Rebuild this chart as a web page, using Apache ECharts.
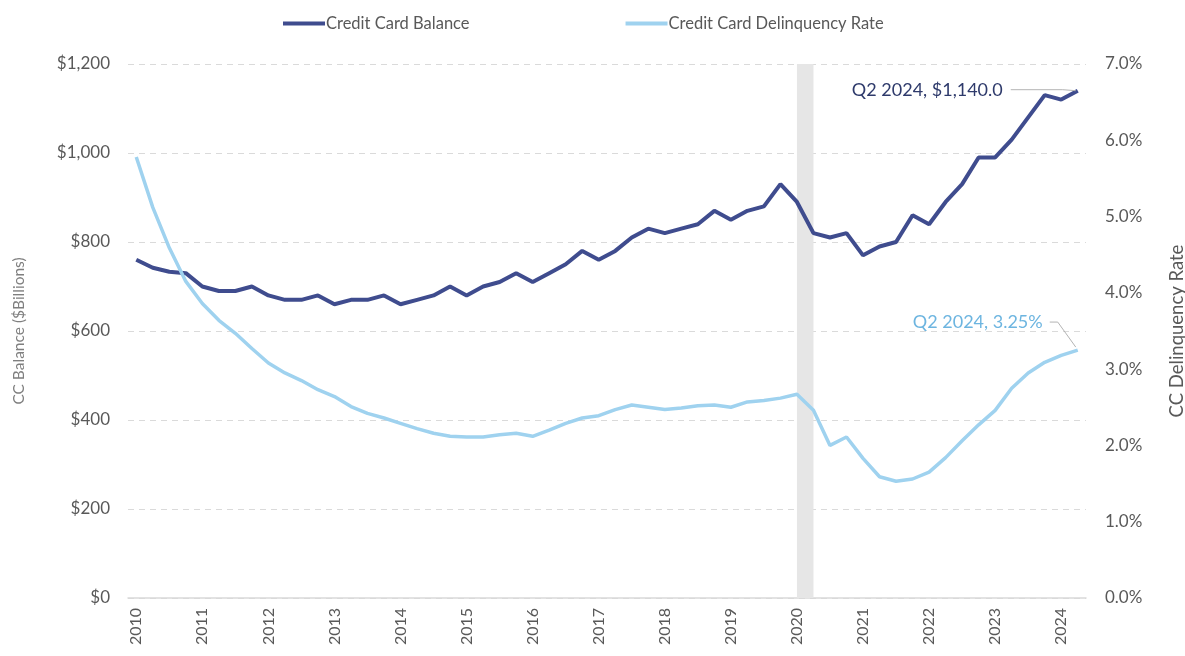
<!DOCTYPE html>
<html>
<head>
<meta charset="utf-8">
<title>Credit Card Balance and Delinquency Rate</title>
<script src="https://cdn.jsdelivr.net/npm/echarts@6/dist/echarts.min.js"></script>
<style>
  html, body { margin: 0; padding: 0; background: #ffffff; }
  #chart { width: 1185px; height: 656px; }
</style>
</head>
<body>
<div id="chart"></div>
<script>
// Quarterly series, Q1 2010 through Q2 2024
const years = [2010, 2011, 2012, 2013, 2014, 2015, 2016, 2017, 2018, 2019, 2020, 2021, 2022, 2023, 2024];
const quarters = ['Q1', 'Q2', 'Q3', 'Q4'];
const categories = [];
years.forEach(y => quarters.forEach(q => {
  if (!(y === 2024 && (q === 'Q3' || q === 'Q4'))) categories.push(y + ' ' + q);
}));

// Credit card balance, $ billions
const balance = [
  760, 742, 733, 730,
  700, 690, 690, 700,
  680, 670, 670, 680,
  660, 670, 670, 680,
  660, 670, 680, 700,
  680, 700, 710, 730,
  710, 730, 750, 780,
  760, 780, 810, 830,
  820, 830, 840, 870,
  850, 870, 880, 930,
  890, 820, 810, 820,
  770, 790, 800, 860,
  840, 890, 930, 990,
  990, 1030, 1080, 1130,
  1120, 1140
];

// Credit card delinquency rate, %
const delinquency = [
  5.78, 5.12, 4.59, 4.15,
  3.86, 3.64, 3.47, 3.27,
  3.08, 2.95, 2.85, 2.73,
  2.64, 2.51, 2.42, 2.36,
  2.29, 2.22, 2.16, 2.12,
  2.11, 2.11, 2.14, 2.16,
  2.12, 2.20, 2.29, 2.36,
  2.39, 2.47, 2.53, 2.50,
  2.47, 2.49, 2.52, 2.53,
  2.50, 2.57, 2.59, 2.62,
  2.67, 2.46, 2.00, 2.11,
  1.83, 1.59, 1.53, 1.56,
  1.65, 1.84, 2.06, 2.27,
  2.46, 2.75, 2.95, 3.09,
  3.18, 3.25
];

// Recession shading
const recessionStart = '2020 Q1';
const recessionEnd = '2020 Q2';

const balanceAxisTicks = { min: 0, max: 1200, interval: 200 };
const rateAxisTicks = { min: 0, max: 7, interval: 1 };

const FONT = 'Lato, "Open Sans", sans-serif';
const NAVY = '#3f4c8e';
const SKY = '#9fd2ef';
const GREY_TEXT = '#595959';
const LEADER = '#b4b4b4';

const lastIdx = categories.length - 1;

function withLastLabel(values, label) {
  return values.map((v, i) => i === lastIdx ? { value: v, label: label } : v);
}

const balanceData = withLastLabel(balance, {
  show: true,
  position: 'left',
  distance: 4,
  color: '#2e3a6b',
  fontFamily: FONT,
  fontSize: 18,
  formatter: p => 'Q2 2024, $' + Number(p.value).toLocaleString('en-US', { minimumFractionDigits: 1, maximumFractionDigits: 1 })
});

const rateData = withLastLabel(delinquency, {
  show: true,
  position: 'left',
  distance: 4,
  color: '#6db5e0',
  fontFamily: FONT,
  fontSize: 18,
  formatter: p => 'Q2 2024, ' + Number(p.value).toFixed(2) + '%'
});

const chart = echarts.init(document.getElementById('chart'), null, { renderer: 'canvas' });

chart.setOption({
  animation: false,
  backgroundColor: '#ffffff',
  textStyle: { fontFamily: FONT },
  legend: {
    top: 10,
    left: 278,
    itemGap: 156,
    itemWidth: 42,
    itemHeight: 4,
    icon: 'rect',
    textStyle: { color: GREY_TEXT, fontSize: 16.5, fontFamily: FONT, padding: [0, 0, 0, -4] },
    data: ['Credit Card Balance', 'Credit Card Delinquency Rate']
  },
  grid: { left: 128, right: 99, top: 64, bottom: 58, containLabel: false, outerBoundsMode: 'none' },
  xAxis: {
    type: 'category',
    data: categories,
    boundaryGap: true,
    axisLine: { lineStyle: { color: '#d9d9d9', width: 1.5 } },
    axisTick: { show: false },
    axisLabel: {
      rotate: 90,
      color: GREY_TEXT,
      fontSize: 16,
      fontFamily: FONT,
      margin: 10,
      interval: (idx) => idx % 4 === 0,
      formatter: v => v.slice(0, 4)
    },
    splitLine: { show: false }
  },
  yAxis: [
    {
      type: 'value',
      position: 'left',
      min: balanceAxisTicks.min,
      max: balanceAxisTicks.max,
      interval: balanceAxisTicks.interval,
      name: 'CC Balance ($Billions)',
      nameLocation: 'middle',
      nameRotate: 90,
      nameGap: 101,
      nameTextStyle: { color: '#7f7f7f', fontSize: 15.5, fontFamily: FONT },
      axisLine: { show: false },
      axisTick: { show: false },
      axisLabel: {
        color: GREY_TEXT,
        fontSize: 17,
        fontFamily: FONT,
        margin: 18,
        formatter: v => '$' + v.toLocaleString('en-US')
      },
      splitLine: { lineStyle: { color: '#dadada', type: [6, 5], width: 1.2 } }
    },
    {
      type: 'value',
      position: 'right',
      min: rateAxisTicks.min,
      max: rateAxisTicks.max,
      interval: rateAxisTicks.interval,
      name: 'CC Delinquency Rate',
      nameLocation: 'middle',
      nameRotate: 90,
      nameGap: 82,
      nameTextStyle: { color: GREY_TEXT, fontSize: 18.5, fontFamily: FONT },
      axisLine: { show: false },
      axisTick: { show: false },
      axisLabel: {
        color: GREY_TEXT,
        fontSize: 17,
        fontFamily: FONT,
        margin: 19,
        formatter: v => v.toFixed(1) + '%'
      },
      splitLine: { show: false }
    }
  ],
  series: [
    {
      name: 'Credit Card Balance',
      type: 'line',
      yAxisIndex: 0,
      data: balanceData,
      symbol: 'circle',
      symbolSize: 0,
      showSymbol: true,
      z: 3,
      lineStyle: { color: NAVY, width: 4 },
      itemStyle: { color: NAVY },
      labelLayout: p => p.dataIndex === lastIdx ? { dx: -71, dy: -1 } : {},
      markArea: {
        silent: true,
        itemStyle: { color: '#e6e6e6' },
        data: [[{ xAxis: recessionStart }, { xAxis: recessionEnd }]]
      }
    },
    {
      name: 'Credit Card Delinquency Rate',
      type: 'line',
      yAxisIndex: 1,
      data: rateData,
      symbol: 'circle',
      symbolSize: 0,
      showSymbol: true,
      z: 3,
      lineStyle: { color: SKY, width: 3.5 },
      itemStyle: { color: SKY },
      labelLayout: p => p.dataIndex === lastIdx ? { dx: -31, dy: -28 } : {}
    }
  ]
});

// Leader lines from the end-point callouts to the latest data points
const balEnd = chart.convertToPixel({ seriesIndex: 0 }, [lastIdx, balance[lastIdx]]);
const rateEnd = chart.convertToPixel({ seriesIndex: 1 }, [lastIdx, delinquency[lastIdx]]);

chart.setOption({
  graphic: [
    {
      type: 'polyline',
      z: 10,
      silent: true,
      shape: { points: [[balEnd[0] - 67, balEnd[1] - 1], [balEnd[0] - 15, balEnd[1] - 1], [balEnd[0] - 2, balEnd[1]]] },
      style: { stroke: LEADER, lineWidth: 1, fill: null }
    },
    {
      type: 'polyline',
      z: 10,
      silent: true,
      shape: { points: [[rateEnd[0] - 28, rateEnd[1] - 28], [rateEnd[0] - 20, rateEnd[1] - 28], [rateEnd[0] - 2, rateEnd[1] - 3]] },
      style: { stroke: LEADER, lineWidth: 1, fill: null }
    }
  ]
});
</script>
</body>
</html>
